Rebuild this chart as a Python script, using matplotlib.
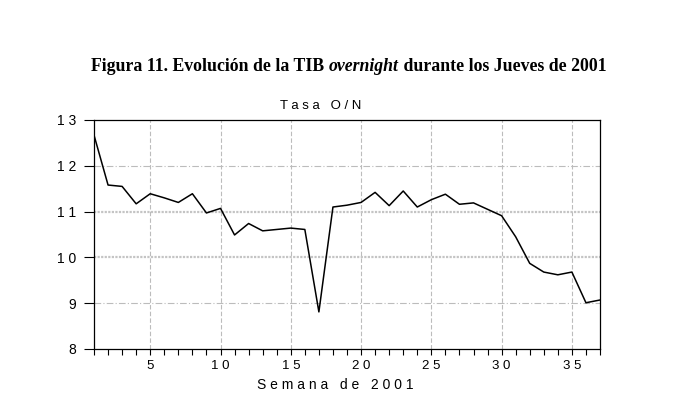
import numpy as np
import matplotlib
matplotlib.use('Agg')
import matplotlib.pyplot as plt

# semanas (jueves) de 2001 y tasa overnight
semanas = list(range(1, 38))
tasa = [12.67, 11.58, 11.55, 11.17, 11.39, 11.30, 11.20, 11.39, 10.97, 11.07,
        10.49, 10.74, 10.58, 10.61, 10.64, 10.61, 8.81, 11.10, 11.14, 11.20,
        11.42, 11.13, 11.45, 11.10, 11.26, 11.38, 11.16, 11.19, 11.05, 10.91,
        10.45, 9.87, 9.68, 9.62, 9.68, 9.01, 9.07]

x_ticks = [5, 10, 15, 20, 25, 30, 35]
y_ticks = [8, 9, 10, 11, 12, 13]


def espaciar(s):
    return ' '.join(str(s))


plt.rcParams['font.family'] = ['Liberation Sans', 'DejaVu Sans']

fig = plt.figure(figsize=(6.83, 3.99), dpi=100)
ax = fig.add_axes([94 / 683, 1 - 349 / 399, 506 / 683, 229 / 399])

# rejilla
for xv in x_ticks:
    ax.axvline(xv, color='#bcbcbc', lw=0.8, ls=(0, (4, 2)), zorder=0)
for yv in [9, 12]:
    ax.axhline(yv, color='#bcbcbc', lw=0.8, ls=(0, (6, 2, 1, 2)), zorder=0)
for yv in [10, 11]:
    ax.axhline(yv, color='#c4c4c4', lw=1.6, ls=(0, (1, 0.6)), zorder=0)

ax.plot(semanas, tasa, color='black', lw=1.1)

ax.set_xlim(1, 37)
ax.set_ylim(8, 13)
ax.set_xticks(x_ticks)
ax.set_xticklabels([espaciar(v) for v in x_ticks], fontsize=9.5)
ax.set_xticks(semanas, minor=True)
ax.set_yticks(y_ticks)
ax.set_yticklabels([espaciar(v) for v in y_ticks], fontsize=10)
ax.tick_params(axis='x', which='both', direction='out', length=4, width=0.8, pad=4)
ax.tick_params(axis='y', direction='out', length=7, width=0.8, pad=6)
for sp in ax.spines.values():
    sp.set_linewidth(0.9)

ax.set_xlabel(espaciar('Semana de 2001'), fontsize=10)
ax.xaxis.set_label_coords((335 - 94) / 506, -(378 - 349) / 229)
ax.xaxis.label.set_va('top')
ax.set_title('T a s a   O / N', fontsize=9.5, pad=8, x=(321 - 94) / 506)

# titulo con parte en cursiva
partes = [('Figura 11. Evolución de la TIB ', 'normal'),
          ('overnight', 'italic'),
          (' durante los Jueves de 2001', 'normal')]
fig.canvas.draw()
r = fig.canvas.get_renderer()
textos = []
ancho = 0
for s, estilo in partes:
    t = fig.text(0, 0, s, fontsize=12.8, fontweight='bold', style=estilo,
                 family='Liberation Serif', va='baseline')
    w = t.get_window_extent(r).width
    textos.append((t, w))
    ancho += w
x0 = 349 - ancho / 2
for t, w in textos:
    t.set_position((x0 / 683, 1 - 71 / 399))
    x0 += w

fig.savefig('out.png', dpi=100)
